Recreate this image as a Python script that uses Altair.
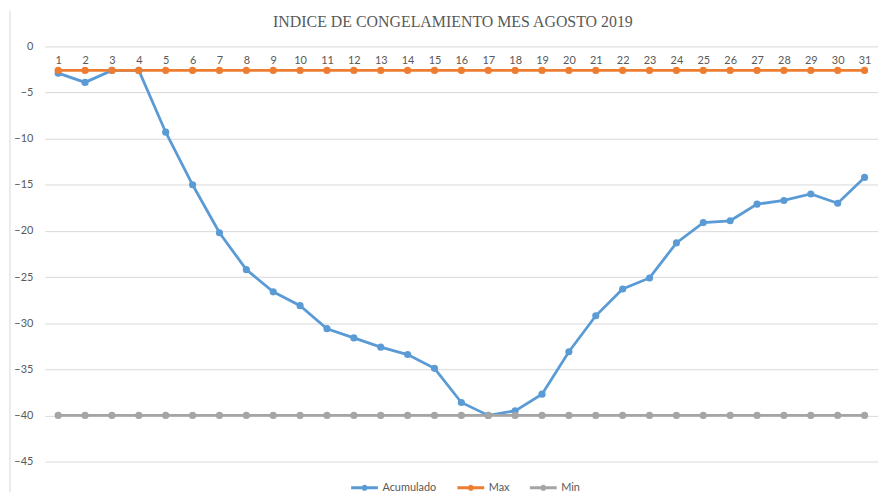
import altair as alt
import pandas as pd

days = list(range(1, 32))
acumulado = [-2.9, -3.9, -2.6, -2.6, -9.3, -15.0, -20.2, -24.2, -26.6, -28.1,
             -30.6, -31.6, -32.6, -33.4, -34.9, -38.6, -40.0, -39.5, -37.7, -33.1,
             -29.2, -26.3, -25.1, -21.3, -19.1, -18.9, -17.1, -16.7, -16.0, -17.0,
             -14.2]
maximo = [-2.6] * 31
minimo = [-40.0] * 31
series_names = ["Acumulado", "Max", "Min"]
series_colors = ["#5B9BD5", "#ED7D31", "#A5A5A5"]
y_ticks = [0, -5, -10, -15, -20, -25, -30, -35, -40, -45]
title_text = "INDICE DE CONGELAMIENTO MES AGOSTO 2019"

rows = []
for name, vals in zip(series_names, [acumulado, maximo, minimo]):
    for d, v in zip(days, vals):
        rows.append({"Dia": d, "Valor": v, "Serie": name})
df = pd.DataFrame(rows)

W, H = 839, 418
FONT = "Lato"
TXT = "#595959"

legend_path = "M-1,0L1,0M-0.12,0a0.12,0.12 0 1,0 0.24,0a0.12,0.12 0 1,0 -0.24,0"

base = alt.Chart(df)

lines = base.mark_line(
    strokeWidth=2.8,
    point=alt.OverlayMarkDef(filled=True, size=52, opacity=1),
).encode(
    x=alt.X("Dia:O", title=None, sort=days,
            scale=alt.Scale(padding=0.5),
            axis=alt.Axis(orient="top", offset=-23, labelPadding=4, tickSize=0,
                          ticks=False, domain=False, grid=False, labelAngle=0,
                          labelFont=FONT, labelFontSize=11, labelColor=TXT)),
    y=alt.Y("Valor:Q", title=None,
            scale=alt.Scale(domain=[-45, 0], nice=False, zero=False),
            axis=alt.Axis(values=y_ticks, tickSize=0, ticks=False, domain=False,
                          labelPadding=12, labelFont=FONT, labelFontSize=11,
                          labelColor=TXT, gridColor="#D9D9D9", gridWidth=1)),
    color=alt.Color("Serie:N", sort=series_names,
                    scale=alt.Scale(domain=series_names, range=series_colors),
                    legend=alt.Legend(title=None, orient="none", direction="horizontal",
                                      legendX=307, legendY=429,
                                      symbolType=legend_path, symbolSize=729,
                                      symbolStrokeWidth=2.8, labelOffset=3,
                                      columnPadding=14,
                                      labelFont=FONT, labelFontSize=11,
                                      labelColor=TXT)),
)

title = alt.Chart(pd.DataFrame({"t": [title_text]})).mark_text(
    font="Liberation Serif", fontSize=16, color=TXT, align="center",
    baseline="middle"
).encode(x=alt.value(411), y=alt.value(-25), text="t:N")

border = alt.Chart(pd.DataFrame({"a": [0]})).mark_rule(
    color="#D9D9D9", strokeWidth=1
).encode(x=alt.value(-35), y=alt.value(-36), y2=alt.value(H + 31))

chart = alt.layer(border, title, lines).properties(
    width=W,
    height=H,
    padding={"left": 37, "top": 37, "right": 0, "bottom": 31},
    autosize=alt.AutoSizeParams(type="none"),
).configure_view(stroke=None)

chart.save("out.html", embed_options={"renderer": "svg", "actions": False})
